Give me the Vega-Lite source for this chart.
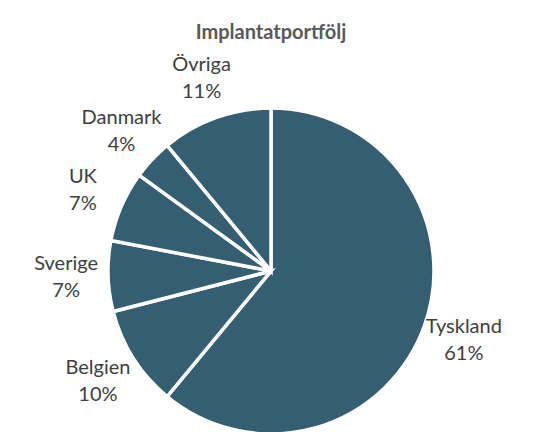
{
  "$schema": "https://vega.github.io/schema/vega-lite/v6.json",
  "width": 542,
  "height": 324,
  "autosize": {"type": "pad"},
  "padding": {"left": 0, "top": 23, "right": 0, "bottom": 0},
  "background": "white",
  "title": {
    "text": "Implantatportfölj",
    "anchor": "middle",
    "frame": "group",
    "offset": 12,
    "font": "Lato",
    "fontSize": 20,
    "fontWeight": "bold",
    "color": "#595959"
  },
  "data": {
    "values": [
      {"ord": 1, "land": "Tyskland", "andel": 0.61},
      {"ord": 2, "land": "Belgien", "andel": 0.10},
      {"ord": 3, "land": "Sverige", "andel": 0.07},
      {"ord": 4, "land": "UK", "andel": 0.07},
      {"ord": 5, "land": "Danmark", "andel": 0.04},
      {"ord": 6, "land": "Övriga", "andel": 0.11}
    ]
  },
  "encoding": {
    "theta": {"field": "andel", "type": "quantitative", "stack": true},
    "order": {"field": "ord", "type": "quantitative"},
    "detail": {"field": "land", "type": "nominal"}
  },
  "layer": [
    {
      "mark": {"type": "arc", "radius": 163, "fill": "#365E72", "stroke": "white", "strokeWidth": 3.5}
    },
    {
      "mark": {"type": "text", "radius": 205, "dy": -13, "font": "Lato", "fontSize": 20, "fill": "#404040"},
      "encoding": {"text": {"field": "land", "type": "nominal"}}
    },
    {
      "mark": {"type": "text", "radius": 205, "dy": 14, "font": "Lato", "fontSize": 20, "fill": "#404040"},
      "encoding": {"text": {"field": "andel", "type": "quantitative", "format": ".0%"}}
    }
  ],
  "config": {"view": {"stroke": null}}
}
